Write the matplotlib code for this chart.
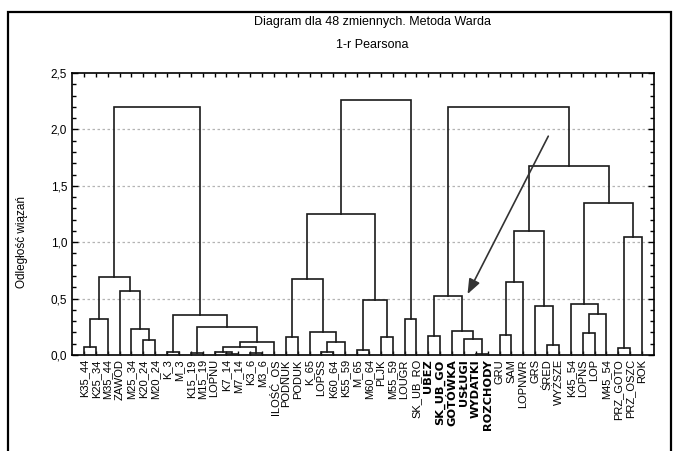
import matplotlib
matplotlib.use("Agg")
import matplotlib.pyplot as plt
from matplotlib.patches import Rectangle
from matplotlib.ticker import MultipleLocator

plt.rcParams['font.family'] = ['Liberation Sans', 'DejaVu Sans']

# ---- data ----
leaves = ["K35_44", "K25_34", "M35_44", "ZAWOD", "M25_34", "K20_24", "M20_24",
          "K_3", "M_3", "K15_19", "M15_19", "LOPNU", "K7_14", "M7_14", "K3_6",
          "M3_6", "ILOŚĆ_OS", "PODNUK", "PODUK", "K_65", "LOPSS", "K60_64",
          "K55_59", "M_65", "M60_64", "PLJK", "M55_59", "LOUGR", "SK_UB_RO",
          "UBEZ", "SK_UB_GO", "GOTÓWKA", "USŁUGI", "WYDATKI", "ROZCHODY",
          "GRU", "SAM", "LOPNWR", "GRS", "ŚRED", "WYŻSZE", "K45_54", "LOPNS",
          "LOP", "M45_54", "PRZ_GOTO", "PRZ_OSZC", "ROK"]
bold_leaves = ["UBEZ", "SK_UB_GO", "GOTÓWKA", "USŁUGI", "WYDATKI", "ROZCHODY"]

# merges: (child_a, child_b, height); ids >= 48 refer to earlier merges
merge_a = [0, 48, 5, 4, 3, 49, 7, 9, 12, 11, 14, 57, 59, 55, 54, 53,
           17, 20, 65, 19, 64, 23, 25, 69, 68, 27, 72,
           29, 33, 32, 31, 75, 35, 80, 39, 38, 81, 42, 85, 41, 45, 88, 87, 84, 79]
merge_b = [1, 2, 6, 50, 51, 52, 8, 10, 13, 56, 15, 58, 16, 60, 61, 62,
           18, 21, 22, 66, 67, 24, 26, 70, 71, 28, 73,
           30, 34, 76, 77, 78, 36, 37, 40, 82, 83, 43, 44, 86, 46, 47, 89, 90, 91]
merge_h = [0.075, 0.32, 0.13, 0.23, 0.565, 0.69, 0.03, 0.02, 0.008, 0.025, 0.02,
           0.068, 0.117, 0.25, 0.355, 2.20,
           0.16, 0.03, 0.112, 0.20, 0.67, 0.045, 0.16, 0.49, 1.25, 0.32, 2.26,
           0.168, 0.012, 0.145, 0.21, 0.52, 0.177, 0.65, 0.088, 0.43, 1.10,
           0.197, 0.36, 0.454, 0.065, 1.047, 1.35, 1.675, 2.20]

y_ticks = [0.0, 0.5, 1.0, 1.5, 2.0, 2.5]
y_ticklabels = ["0,0", "0,5", "1,0", "1,5", "2,0", "2,5"]

# ---- figure ----
fig = plt.figure(figsize=(6.77, 4.51), dpi=100)
ax = fig.add_axes([72/677, 1-355/451, (654-72)/677, (355-73)/451])

n = len(leaves)
pos = {i: i + 1 for i in range(n)}
hgt = {i: 0.0 for i in range(n)}
lc = '#1a1a1a'
for k, (a, b, h) in enumerate(zip(merge_a, merge_b, merge_h)):
    xa, xb = pos[a], pos[b]
    ax.plot([xa, xa, xb, xb], [hgt[a], h, h, hgt[b]], color=lc, lw=1.2,
            solid_joinstyle='miter', zorder=3)
    pos[n + k] = (xa + xb) / 2
    hgt[n + k] = h

ax.set_xlim(0, n + 1)
ax.set_ylim(0, 2.5)

ax.set_yticks(y_ticks)
ax.set_yticklabels(y_ticklabels, fontsize=8.5)
ax.yaxis.set_minor_locator(MultipleLocator(0.1))
ax.tick_params(axis='y', which='both', direction='in', left=True, right=True,
               labelright=False)
ax.tick_params(axis='y', which='major', length=4, width=1)
ax.tick_params(axis='y', which='minor', length=3, width=1)

ax.set_xticks(range(1, n + 1))
ax.set_xticklabels(leaves, rotation=90, fontsize=8)
for t in ax.get_xticklabels():
    if t.get_text() in bold_leaves:
        t.set_fontweight('bold')
        t.set_family(['DejaVu Sans'])
        t.set_fontsize(8.2)
ax.tick_params(axis='x', which='both', direction='in', top=True, bottom=True,
               length=3, width=1, pad=3)

for y in [0.5, 1.0, 1.5, 2.0]:
    ax.axhline(y, color='#b4b4b4', lw=0.9, ls=(0, (2, 2)), zorder=1)

for s in ax.spines.values():
    s.set_linewidth(1.2)
    s.set_color('black')

ax.set_ylabel("Odległość wiązań", fontsize=8.5)
ax.yaxis.set_label_coords(-0.075, 0.40)

fig.text(372/677, 1-22/451, "Diagram dla 48 zmiennych. Metoda Warda",
         ha='center', va='center', fontsize=9)
fig.text(372/677, 1-45/451, "1-r Pearsona", ha='center', va='center', fontsize=9)

# arrow
ax.annotate("", xy=(33.3, 0.54), xytext=(40.1, 1.94),
            arrowprops=dict(arrowstyle='-|>,head_length=0.9,head_width=0.35',
                            color='#333333', lw=1.2, shrinkA=0, shrinkB=0),
            zorder=5)

# outer frame
fig.patches.append(Rectangle((8/677, -0.05), (671-8)/677, 1.05-12/451,
                             transform=fig.transFigure, fill=False,
                             edgecolor='black', lw=1.6))

fig.savefig("out.png", dpi=100)
